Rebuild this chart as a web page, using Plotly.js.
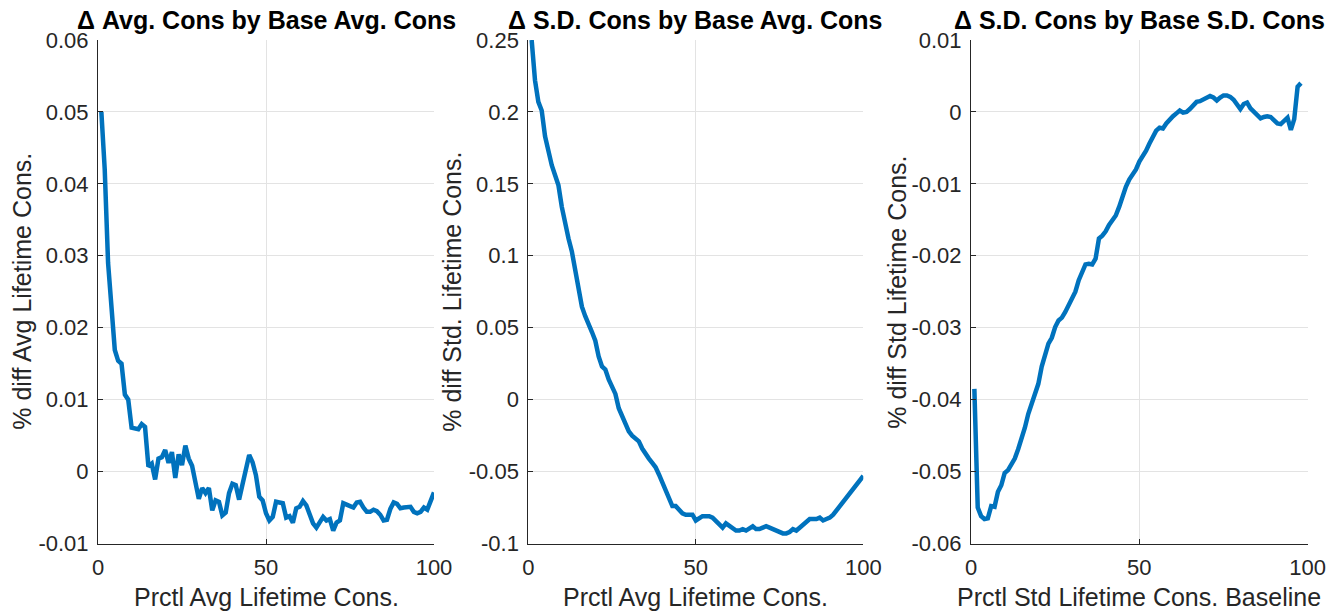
<!DOCTYPE html>
<html>
<head>
<meta charset="utf-8">
<script src="https://cdn.plot.ly/plotly-3.0.1.min.js"></script>
<style>html,body{margin:0;padding:0;background:#fff;}#chart{width:1331px;height:614px;}</style>
</head>
<body>
<div id="chart"></div>
<script>
// Panel 1: Δ Avg. Cons by Base Avg. Cons
const p1x = [1,2,3,4,5,6,7,8,9,10,11,12,13,14,15,16,17,18,19,20,21,22,23,24,25,26,27,28,29,30,31,32,33,34,35,36,37,38,39,40,41,42,43,44,45,46,47,48,49,50,51,52,53,54,55,56,57,58,59,60,61,62,63,64,65,66,67,68,69,70,71,72,73,74,75,76,77,78,79,80,81,82,83,84,85,86,87,88,89,90,91,92,93,94,95,96,97,98,99,100];
const p1y = [0.0500,0.0420,0.0290,0.0220,0.0169,0.0154,0.0150,0.0107,0.0100,0.0061,0.0060,0.0059,0.0066,0.0062,0.0007,0.0011,-0.0011,0.0018,0.0020,0.0030,0.0012,0.0027,-0.0009,0.0024,0.0009,0.0036,0.0018,0.0008,-0.0015,-0.0038,-0.0023,-0.0030,-0.0023,-0.0054,-0.0040,-0.0042,-0.0061,-0.0057,-0.0030,-0.0017,-0.0019,-0.0039,-0.0018,0.0005,0.0023,0.0013,-0.0005,-0.0035,-0.0040,-0.0058,-0.0068,-0.0063,-0.0042,-0.0043,-0.0044,-0.0064,-0.0062,-0.0071,-0.0051,-0.0049,-0.0041,-0.0047,-0.0062,-0.0072,-0.0078,-0.0070,-0.0063,-0.0068,-0.0066,-0.0082,-0.0071,-0.0068,-0.0044,-0.0046,-0.0048,-0.0050,-0.0043,-0.0042,-0.0050,-0.0056,-0.0056,-0.0053,-0.0055,-0.0060,-0.0068,-0.0067,-0.0052,-0.0043,-0.0045,-0.0051,-0.0050,-0.0050,-0.0049,-0.0056,-0.0058,-0.0056,-0.0050,-0.0053,-0.0042,-0.0029];

// Panel 2: Δ S.D. Cons by Base Avg. Cons
const p2x = [1,2,3,4,5,6,7,8,9,10,11,12,13,14,15,16,17,18,19,20,21,22,23,24,25,26,27,28,29,30,31,32,33,34,35,36,37,38,39,40,41,42,43,44,45,46,47,48,49,50,51,52,53,54,55,56,57,58,59,60,61,62,63,64,65,66,67,68,69,70,71,72,73,74,75,76,77,78,79,80,81,82,83,84,85,86,87,88,89,90,91,92,93,94,95,96,97,98,99,100];
const p2y = [0.250,0.222,0.207,0.201,0.183,0.172,0.163,0.156,0.149,0.134,0.122,0.112,0.103,0.091,0.079,0.0646,0.058,0.053,0.047,0.041,0.030,0.023,0.021,0.014,0.009,0.004,-0.006,-0.012,-0.018,-0.022,-0.025,-0.027,-0.029,-0.034,-0.038,-0.041,-0.044,-0.047,-0.052,-0.058,-0.064,-0.069,-0.074,-0.074,-0.077,-0.079,-0.080,-0.080,-0.080,-0.084,-0.082,-0.081,-0.081,-0.081,-0.082,-0.084,-0.087,-0.089,-0.086,-0.088,-0.090,-0.091,-0.091,-0.090,-0.091,-0.089,-0.088,-0.090,-0.090,-0.089,-0.088,-0.089,-0.090,-0.091,-0.092,-0.093,-0.093,-0.092,-0.090,-0.091,-0.089,-0.087,-0.086,-0.083,-0.083,-0.083,-0.082,-0.084,-0.083,-0.082,-0.080,-0.077,-0.074,-0.070,-0.067,-0.064,-0.062,-0.058,-0.056,-0.053];

// Panel 3: Δ S.D. Cons by Base S.D. Cons
const p3x = [1,2,3,4,5,6,7,8,9,10,11,12,13,14,15,16,17,18,19,20,21,22,23,24,25,26,27,28,29,30,31,32,33,34,35,36,37,38,39,40,41,42,43,44,45,46,47,48,49,50,51,52,53,54,55,56,57,58,59,60,61,62,63,64,65,66,67,68,69,70,71,72,73,74,75,76,77,78,79,80,81,82,83,84,85,86,87,88,89,90,91,92,93,94,95,96,97,98];
const p3y = [-0.0385,-0.0550,-0.0562,-0.0566,-0.0565,-0.0548,-0.0549,-0.0528,-0.0519,-0.0502,-0.0498,-0.0491,-0.0482,-0.0469,-0.0455,-0.0439,-0.0420,-0.0405,-0.0392,-0.0378,-0.0354,-0.0336,-0.0322,-0.0314,-0.0299,-0.0290,-0.0286,-0.0278,-0.0268,-0.0261,-0.0250,-0.0234,-0.0222,-0.0212,-0.0211,-0.0212,-0.0204,-0.0176,-0.0172,-0.0166,-0.0157,-0.0151,-0.0144,-0.0132,-0.0116,-0.0104,-0.0094,-0.0088,-0.0080,-0.0069,-0.0062,-0.0054,-0.0044,-0.0034,-0.0026,-0.0022,-0.0023,-0.0016,-0.0010,-0.0006,-0.0002,0.0002,-0.0001,0.0000,0.0004,0.0008,0.0014,0.0015,0.0017,0.0019,0.0022,0.0020,0.0016,0.0020,0.0023,0.0023,0.0021,0.0017,0.0010,0.0004,0.0011,0.0013,0.0005,0.0000,-0.0005,-0.0009,-0.0007,-0.0006,-0.0007,-0.0012,-0.0016,-0.0017,-0.0012,-0.0008,-0.0025,-0.0010,0.0035,0.0040];

const titles = ["Δ Avg. Cons by Base Avg. Cons", "Δ S.D. Cons by Base Avg. Cons", "Δ S.D. Cons by Base S.D. Cons"];
const xTitles = ["Prctl Avg Lifetime Cons.", "Prctl Avg Lifetime Cons.", "Prctl Std Lifetime Cons. Baseline"];
const yTitles = ["% diff Avg Lifetime Cons.", "% diff Std. Lifetime Cons.", "% diff Std Lifetime Cons."];
const xTicks = [0, 50, 100];
const y1Ticks = [-0.01, 0, 0.01, 0.02, 0.03, 0.04, 0.05, 0.06];
const y1Labels = ["-0.01", "0", "0.01", "0.02", "0.03", "0.04", "0.05", "0.06"];
const y2Ticks = [-0.1, -0.05, 0, 0.05, 0.1, 0.15, 0.2, 0.25];
const y2Labels = ["-0.1", "-0.05", "0", "0.05", "0.1", "0.15", "0.2", "0.25"];
const y3Ticks = [-0.06, -0.05, -0.04, -0.03, -0.02, -0.01, 0, 0.01];
const y3Labels = ["-0.06", "-0.05", "-0.04", "-0.03", "-0.02", "-0.01", "0", "0.01"];

const W = 1331, H = 614;
const plotTop = 40, plotBot = 543.5;
const panels = [[98, 434], [528.3, 863.3], [971, 1307.7]];
const lineColor = '#0072BD';
const dark = '#262626';
const FONT = '"Liberation Sans", Arial, Helvetica, sans-serif';

function mkTrace(x, y, i) {
  return {x: x, y: y, type: 'scatter', mode: 'lines',
    xaxis: i === 0 ? 'x' : 'x' + (i + 1), yaxis: i === 0 ? 'y' : 'y' + (i + 1),
    line: {color: lineColor, width: 4.5}, hoverinfo: 'skip', showlegend: false};
}
const data = [mkTrace(p1x, p1y, 0), mkTrace(p2x, p2y, 1), mkTrace(p3x, p3y, 2)];

const yDomain = [(H - plotBot) / H, (H - plotTop) / H];
function xAxis(i, anchor) {
  return {domain: [panels[i][0] / W, panels[i][1] / W], anchor: anchor, range: [0, 100],
    tickmode: 'array', tickvals: xTicks, ticktext: xTicks.map(String),
    showline: true, linecolor: dark, linewidth: 1, ticks: 'inside', ticklen: 5, tickcolor: dark,
    showgrid: true, gridcolor: '#e3e3e3', gridwidth: 1, zeroline: false,
    tickfont: {family: FONT, size: 22, color: dark}, ticklabelstandoff: 4, automargin: false, fixedrange: true};
}
function yAxis(anchor, range, ticks, labels) {
  return {domain: yDomain, anchor: anchor, range: range,
    tickmode: 'array', tickvals: ticks, ticktext: labels,
    showline: true, linecolor: dark, linewidth: 1, ticks: 'inside', ticklen: 5, tickcolor: dark,
    showgrid: true, gridcolor: '#e3e3e3', gridwidth: 1, zeroline: false,
    tickfont: {family: FONT, size: 22, color: dark}, ticklabelstandoff: 4, automargin: false, fixedrange: true};
}

const annotations = [];
for (let i = 0; i < 3; i++) {
  const cx = (panels[i][0] + panels[i][1]) / 2 / W;
  annotations.push({text: '<b>' + titles[i] + '</b>', x: cx, y: (H - 20) / H, xref: 'paper', yref: 'paper',
    xanchor: 'center', yanchor: 'middle', showarrow: false, font: {family: FONT, size: 25, color: '#000'}});
  annotations.push({text: xTitles[i], x: cx, y: (H - 597) / H, xref: 'paper', yref: 'paper',
    xanchor: 'center', yanchor: 'middle', showarrow: false, font: {family: FONT, size: 25, color: dark}});
}
const yTitleX = [22, 452, 897];
for (let i = 0; i < 3; i++) {
  annotations.push({text: yTitles[i], x: yTitleX[i] / W, y: ((H - plotTop) + (H - plotBot)) / 2 / H,
    xref: 'paper', yref: 'paper', xanchor: 'center', yanchor: 'middle', textangle: -90, showarrow: false,
    font: {family: FONT, size: 25, color: dark}});
}

const layout = {
  width: W, height: H, margin: {l: 0, r: 0, t: 0, b: 0, pad: 0},
  paper_bgcolor: '#fff', plot_bgcolor: '#fff', showlegend: false,
  font: {family: FONT, color: dark},
  xaxis: xAxis(0, 'y'), xaxis2: xAxis(1, 'y2'), xaxis3: xAxis(2, 'y3'),
  yaxis: yAxis('x', [-0.01, 0.06], y1Ticks, y1Labels),
  yaxis2: yAxis('x2', [-0.1, 0.25], y2Ticks, y2Labels),
  yaxis3: yAxis('x3', [-0.06, 0.01], y3Ticks, y3Labels),
  annotations: annotations
};
Plotly.newPlot('chart', data, layout, {displayModeBar: false, staticPlot: true});
</script>
</body>
</html>
